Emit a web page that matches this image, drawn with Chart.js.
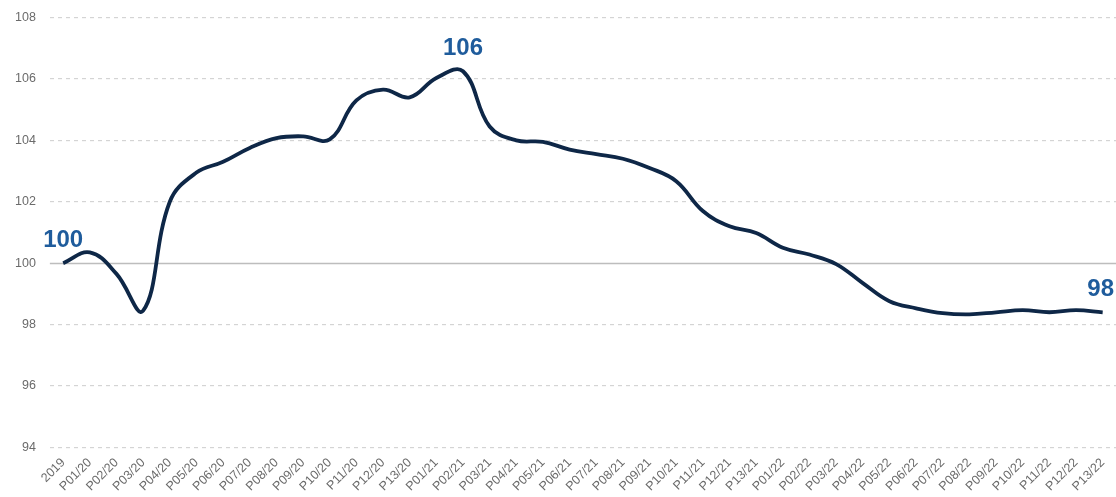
<!DOCTYPE html>
<html lang="en">
<head>
  <meta charset="UTF-8">
  <title>Index since 2019</title>
  <script src="https://cdn.jsdelivr.net/npm/chart.js"></script>
  <style>
    html, body { margin: 0; padding: 0; background: #fff; overflow: hidden; }
    #wrap { width: 1116px; height: 498px; margin-top: -4px; }
  </style>
</head>
<body>
  <div id="wrap"><canvas id="indexChart"></canvas></div>

  <script>
    // periods: base year then four-weekly periods 2020-2022
    const periods = ['2019',
      'P01/20', 'P02/20', 'P03/20', 'P04/20', 'P05/20', 'P06/20', 'P07/20', 'P08/20', 'P09/20', 'P10/20', 'P11/20', 'P12/20', 'P13/20',
      'P01/21', 'P02/21', 'P03/21', 'P04/21', 'P05/21', 'P06/21', 'P07/21', 'P08/21', 'P09/21', 'P10/21', 'P11/21', 'P12/21', 'P13/21',
      'P01/22', 'P02/22', 'P03/22', 'P04/22', 'P05/22', 'P06/22', 'P07/22', 'P08/22', 'P09/22', 'P10/22', 'P11/22', 'P12/22', 'P13/22'];

    const indexValues = [100,
      100.35, 99.65, 98.45, 102.0, 102.95, 103.3, 103.75, 104.07, 104.13, 104.03, 105.3, 105.65, 105.4,
      106.03, 106.25, 104.45, 104.0, 103.95, 103.7, 103.55, 103.4, 103.1, 102.67, 101.7, 101.2, 100.98,
      100.5, 100.28, 99.97, 99.35, 98.76, 98.53, 98.37, 98.33, 98.4, 98.47, 98.4, 98.47, 98.4];

    const yTicks = [94, 96, 98, 100, 102, 104, 106, 108];

    // points that get a rounded value written above them: start, peak, end
    const peakIdx = indexValues.indexOf(Math.max(...indexValues));
    const labelled = [0, peakIdx, indexValues.length - 1];

    const callouts = {
      id: 'callouts',
      beforeDatasetsDraw(chart) {
        // solid base line at 100
        const { ctx, chartArea, scales } = chart;
        const y = Math.round(scales.y.getPixelForValue(100)) + 0.5;
        ctx.save();
        ctx.strokeStyle = '#bdbdbd';
        ctx.lineWidth = 1.5;
        ctx.beginPath();
        ctx.moveTo(chartArea.left, y);
        ctx.lineTo(chartArea.right, y);
        ctx.stroke();
        ctx.restore();
      },
      afterDatasetsDraw(chart) {
        const { ctx } = chart;
        const meta = chart.getDatasetMeta(0);
        ctx.save();
        ctx.font = 'bold 24px "Liberation Sans", Arial, sans-serif';
        ctx.fillStyle = '#1f5c9c';
        ctx.textAlign = 'center';
        ctx.textBaseline = 'bottom';
        labelled.forEach(i => {
          const pt = meta.data[i];
          let x = pt.x;
          if (i === indexValues.length - 1) x -= 2;
          ctx.fillText(String(Math.round(indexValues[i])), x, pt.y - 11);
        });
        ctx.restore();
      }
    };

    new Chart(document.getElementById('indexChart'), {
      type: 'line',
      data: {
        labels: periods,
        datasets: [{
          data: indexValues,
          borderColor: '#0e2747',
          borderWidth: 3.8,
          tension: 0.4,
          pointRadius: 0,
          fill: false
        }]
      },
      options: {
        responsive: true,
        maintainAspectRatio: false,
        animation: false,
        layout: { padding: { top: 0, right: 0, left: 1, bottom: 0 } },
        plugins: {
          legend: { display: false },
          tooltip: { enabled: false }
        },
        scales: {
          x: {
            offset: true,
            grid: { display: false },
            border: { display: false },
            ticks: {
              autoSkip: false,
              maxRotation: 45,
              minRotation: 45,
              padding: 0,
              color: '#6b6b6b',
              font: { family: '"Liberation Sans", Arial, sans-serif', size: 12.5 }
            }
          },
          y: {
            min: 94,
            max: 108,
            afterBuildTicks(scale) {
              scale.ticks = yTicks.map(v => ({ value: v }));
            },
            border: { display: false, dash: [4, 4] },
            grid: {
              color: ctx => ctx.tick && ctx.tick.value === 100 ? 'rgba(0,0,0,0)' : '#d4d4d4',
              lineWidth: 1.2,
              drawTicks: false
            },
            ticks: {
              padding: 14,
              color: '#6b6b6b',
              font: { family: '"Liberation Sans", Arial, sans-serif', size: 12.5 }
            }
          }
        }
      },
      plugins: [callouts]
    });
  </script>
</body>
</html>
